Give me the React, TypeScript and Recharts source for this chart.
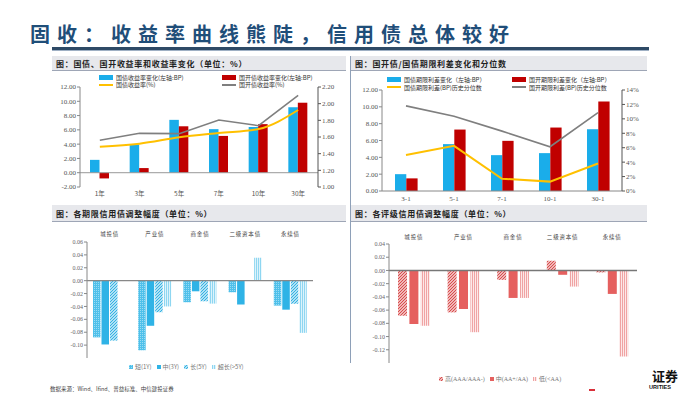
import React from "react";
import { ComposedChart, BarChart, Bar, Line, XAxis, YAxis, ReferenceLine } from "recharts";

// 国债/国开收益率
const tenors = ["1年", "3年", "5年", "7年", "10年", "30年"];
const govChange = [1.8, 3.95, 7.4, 6.1, 6.4, 9.15];
const cdbChange = [-0.8, 0.65, 6.5, 5.15, 6.8, 9.8];
const govYield = [1.484, 1.52, 1.596, 1.648, 1.696, 1.924];
const cdbYield = [1.56, 1.644, 1.64, 1.804, 1.736, 2.1];

// 期限利差
const spreads = ["3-1", "5-1", "7-1", "10-1", "30-1"];
const govSpreadChange = [2.0, 5.57, 4.26, 4.5, 7.34];
const cdbSpreadChange = [1.5, 7.3, 5.96, 7.54, 10.62];
const govSpreadPct = [5.0, 6.26, 1.7, 1.3, 3.82];
const cdbSpreadPct = [11.8, 10.36, 8.3, 6.13, 10.87];

// 信用债
const creditTypes = ["城投债", "产业债", "商金债", "二级资本债", "永续债"];
const short1Y = [-0.088, -0.108, -0.0335, -0.018, -0.0387];
const mid3Y = [-0.099, -0.07, -0.0165, -0.037, -0.045];
const long5Y = [-0.093, -0.049, -0.032, null, -0.036];
const ultraLong = [null, -0.04, -0.0356, 0.0356, -0.081];

const highGrade = [-0.0685, -0.0634, -0.0142, 0.0147, -0.003];
const midGrade = [-0.081, -0.0583, -0.0416, -0.0066, -0.0355];
const lowGrade = [-0.0837, -0.0934, -0.0416, -0.0244, -0.13];

const ticksA = [-2, 0, 2, 4, 6, 8, 10, 12];
const ticksAR = [1.0, 1.2, 1.4, 1.6, 1.8, 2.0, 2.2];
const ticksB = [0, 2, 4, 6, 8, 10, 12];
const ticksBR = [0, 2, 4, 6, 8, 10, 12, 14];
const ticksC = [-0.12, -0.1, -0.08, -0.06, -0.04, -0.02, 0, 0.02, 0.04, 0.06];
const ticksD = [-0.14, -0.12, -0.1, -0.08, -0.06, -0.04, -0.02, 0, 0.02, 0.04];

const yieldData = tenors.map((name, i) => ({
  name,
  gov: govChange[i],
  cdb: cdbChange[i],
  govY: govYield[i],
  cdbY: cdbYield[i],
}));
const spreadData = spreads.map((name, i) => ({
  name,
  gov: govSpreadChange[i],
  cdb: cdbSpreadChange[i],
  govP: govSpreadPct[i],
  cdbP: cdbSpreadPct[i],
}));
const tenorCredit = creditTypes.map((name, i) => ({
  name,
  s: short1Y[i],
  m: mid3Y[i],
  l: long5Y[i],
  u: ultraLong[i],
}));
const gradeCredit = creditTypes.map((name, i) => ({
  name,
  h: highGrade[i],
  m: midGrade[i],
  lo: lowGrade[i],
}));

const BLUE = "#1AADEA";
const RED = "#C00000";
const YELLOW = "#FFC000";
const GRAY = "#7F7F7F";
const CJK = '"Noto Sans CJK SC", sans-serif';
const SERIF = '"Liberation Serif", serif';

const numTick = { fontSize: 7, fill: "#555", fontFamily: SERIF };
const smallTick = { fontSize: 6, fill: "#666", fontFamily: SERIF };
const catTick = { fontSize: 6.5, fill: "#555", fontFamily: CJK };
const topCatTick = { fontSize: 5.5, fill: "#444", fontFamily: CJK, letterSpacing: 0.8 };
const axisStroke = { stroke: "#888" };

const Header = ({ x, y, w, h, text }: { x: number; y: number; w: number; h: number; text: string }) => (
  <div
    style={{
      position: "absolute",
      left: x,
      top: y,
      width: w,
      height: h,
      background: "#E7E8EC",
      borderBottom: "1px solid #9EA6B6",
      boxSizing: "border-box",
      fontFamily: CJK,
      fontWeight: 700,
      fontSize: 8,
      letterSpacing: 0.7,
      color: "#222",
      lineHeight: `${h}px`,
      paddingLeft: 4,
      whiteSpace: "nowrap",
    }}
  >
    {text}
  </div>
);

const LegendItem = ({
  x,
  y,
  kind,
  color,
  label,
}: {
  x: number;
  y: number;
  kind: "rect" | "line";
  color: string;
  label: string;
}) => (
  <div
    style={{
      position: "absolute",
      left: x,
      top: y - 5,
      height: 10,
      display: "flex",
      alignItems: "center",
      gap: 3,
      fontFamily: CJK,
      fontSize: 6,
      color: "#333",
      whiteSpace: "nowrap",
    }}
  >
    <span
      style={{
        display: "inline-block",
        width: 14,
        height: kind === "rect" ? 5 : 2,
        background: color,
      }}
    />
    <span>{label}</span>
  </div>
);

const Swatch = ({ fill }: { fill: string }) => (
  <svg width={4} height={4} style={{ display: "inline-block" }}>
    <rect width={4} height={4} fill={fill} />
  </svg>
);

export default function App() {
  return (
    <div
      style={{
        position: "absolute",
        left: 0,
        top: 0,
        width: 700,
        height: 394,
        background: "#fff",
        overflow: "hidden",
      }}
    >
      <svg width={0} height={0} style={{ position: "absolute" }}>
        <defs>
          <pattern id="blueDots" width={2} height={2} patternUnits="userSpaceOnUse">
            <rect width={2} height={2} fill="#4FC0EA" />
            <rect width={1} height={1} fill="#9ADCF4" />
          </pattern>
          <pattern id="blueDiag" width={3} height={3} patternUnits="userSpaceOnUse">
            <rect width={3} height={3} fill="#E6F6FC" />
            <path d="M0,3 L3,0 M-1,1 L1,-1 M2,4 L4,2" stroke="#2BAFE3" strokeWidth={1.1} />
          </pattern>
          <pattern id="blueVert" width={2} height={2} patternUnits="userSpaceOnUse">
            <rect width={2} height={2} fill="#DDF3FB" />
            <rect width={1} height={2} fill="#8ED6F1" />
          </pattern>
          <pattern id="redDiag" width={3} height={3} patternUnits="userSpaceOnUse">
            <rect width={3} height={3} fill="#FBE6E6" />
            <path d="M0,3 L3,0 M-1,1 L1,-1 M2,4 L4,2" stroke="#D64545" strokeWidth={1.1} />
          </pattern>
          <pattern id="redVert" width={2} height={2} patternUnits="userSpaceOnUse">
            <rect width={2} height={2} fill="#FCE8E8" />
            <rect width={1} height={2} fill="#F0A3A3" />
          </pattern>
        </defs>
      </svg>

      {/* Title */}
      <div
        style={{
          position: "absolute",
          left: 30,
          top: 22,
          fontFamily: CJK,
          fontWeight: 700,
          fontSize: 20,
          letterSpacing: 7,
          color: "#1F4E79",
          whiteSpace: "nowrap",
          lineHeight: "24px",
        }}
      >
        固收：收益率曲线熊陡，信用债总体较好
      </div>
      <div style={{ position: "absolute", left: 52, top: 47, width: 597, height: 3, background: "#2E4A66" }} />
      <div style={{ position: "absolute", left: 52, top: 50, width: 597, height: 1, background: "#9FB0C4" }} />

      {/* Panel headers */}
      <Header x={52} y={56} w={294} h={15} text="图：国债、国开收益率和收益率变化（单位：%）" />
      <Header x={351} y={56} w={296} h={15} text="图：国开债/国债期限利差变化和分位数" />
      <Header x={52} y={205} w={294} h={17} text="图：各期限信用债调整幅度（单位：%）" />
      <Header x={351} y={205} w={296} h={17} text="图：各评级信用债调整幅度（单位：%）" />
      <div style={{ position: "absolute", left: 350, top: 56, width: 1, height: 307, background: "#8EA0B8" }} />

      {/* Top-left legend */}
      <LegendItem x={99} y={77} kind="rect" color={BLUE} label="国债收益率变化(左轴:BP)" />
      <LegendItem x={222} y={77} kind="rect" color={RED} label="国开债收益率变化(左轴:BP)" />
      <LegendItem x={99} y={84.5} kind="line" color={YELLOW} label="国债收益率(%)" />
      <LegendItem x={222} y={84.5} kind="line" color={GRAY} label="国开债收益率(%)" />

      {/* Top-left chart */}
      <div style={{ position: "absolute", left: 40, top: 72 }}>
        <ComposedChart width={300} height={131} data={yieldData} margin={{ top: 15, right: 0, bottom: 0, left: 0 }} barGap={0}>
          <XAxis dataKey="name" axisLine={false} tickLine={false} tickSize={2} tickMargin={2} height={16} tick={catTick} interval={0} />
          <YAxis
            yAxisId="l"
            domain={[-2, 12]}
            ticks={ticksA}
            width={40}
            tickFormatter={(v) => Number(v).toFixed(2)}
            axisLine={axisStroke}
            tickLine={axisStroke}
            tickSize={3}
            tickMargin={1}
            tick={numTick}
          />
          <YAxis
            yAxisId="r"
            orientation="right"
            domain={[1, 2.2]}
            ticks={ticksAR}
            width={22}
            tickFormatter={(v) => Number(v).toFixed(2)}
            axisLine={{ stroke: "#555" }}
            tickLine={{ stroke: "#555" }}
            tickSize={3}
            tickMargin={1}
            tick={numTick}
          />
          <ReferenceLine yAxisId="l" y={0} stroke="#999" />
          <Bar yAxisId="l" dataKey="gov" fill={BLUE} barSize={9.5} isAnimationActive={false} />
          <Bar yAxisId="l" dataKey="cdb" fill={RED} barSize={9.5} isAnimationActive={false} />
          <Line yAxisId="r" dataKey="govY" type="monotone" stroke={YELLOW} strokeWidth={2} dot={false} isAnimationActive={false} />
          <Line yAxisId="r" dataKey="cdbY" type="linear" stroke={GRAY} strokeWidth={1.6} dot={false} isAnimationActive={false} />
        </ComposedChart>
      </div>

      {/* Top-right legend */}
      <LegendItem x={387} y={79} kind="rect" color={BLUE} label="国债期限利差变化（左轴:BP）" />
      <LegendItem x={512} y={79} kind="rect" color={RED} label="国开期限利差变化（左轴:BP）" />
      <LegendItem x={387} y={87.3} kind="line" color={YELLOW} label="国债期限利差(BP)历史分位数" />
      <LegendItem x={512} y={87.3} kind="line" color={GRAY} label="国开期限利差(BP)历史分位数" />

      {/* Top-right chart */}
      <div style={{ position: "absolute", left: 350, top: 72 }}>
        <ComposedChart width={294} height={133} data={spreadData} margin={{ top: 18, right: 0, bottom: 0, left: 0 }} barGap={0}>
          <XAxis dataKey="name" axisLine={axisStroke} tickLine={false} tickSize={2} tickMargin={3} height={14} tick={numTick} interval={0} />
          <YAxis
            yAxisId="l"
            domain={[0, 12]}
            ticks={ticksB}
            width={32}
            tickFormatter={(v) => Number(v).toFixed(2)}
            axisLine={axisStroke}
            tickLine={axisStroke}
            tickSize={3}
            tickMargin={1}
            tick={numTick}
          />
          <YAxis
            yAxisId="r"
            orientation="right"
            domain={[0, 14]}
            ticks={ticksBR}
            width={22}
            tickFormatter={(v) => `${v}%`}
            axisLine={{ stroke: "#555" }}
            tickLine={{ stroke: "#555" }}
            tickSize={3}
            tickMargin={1}
            tick={numTick}
          />
          <Bar yAxisId="l" dataKey="gov" fill={BLUE} barSize={11.3} isAnimationActive={false} />
          <Bar yAxisId="l" dataKey="cdb" fill={RED} barSize={11.3} isAnimationActive={false} />
          <Line yAxisId="r" dataKey="govP" type="linear" stroke={YELLOW} strokeWidth={2} dot={false} isAnimationActive={false} />
          <Line yAxisId="r" dataKey="cdbP" type="linear" stroke={GRAY} strokeWidth={1.6} dot={false} isAnimationActive={false} />
        </ComposedChart>
      </div>

      {/* Bottom-left chart */}
      <div style={{ position: "absolute", left: 40, top: 222 }}>
        <BarChart width={273} height={138} data={tenorCredit} margin={{ top: 0, right: 0, bottom: 2, left: 0 }} barGap={1}>
          <XAxis dataKey="name" orientation="top" axisLine={false} tickLine={false} tickSize={2} tickMargin={4} height={20} tick={topCatTick} interval={0} />
          <YAxis
            domain={[-0.12, 0.06]}
            ticks={ticksC}
            width={47}
            tickFormatter={(v) => Number(v).toFixed(2)}
            axisLine={axisStroke}
            tickLine={axisStroke}
            tickSize={3}
            tickMargin={1}
            tick={smallTick}
          />
          <ReferenceLine y={0} stroke="#888" strokeWidth={1.2} />
          <Bar dataKey="s" fill="url(#blueDots)" barSize={7.5} isAnimationActive={false} />
          <Bar dataKey="m" fill="#2FB3E6" barSize={7.5} isAnimationActive={false} />
          <Bar dataKey="l" fill="url(#blueDiag)" barSize={7.5} isAnimationActive={false} />
          <Bar dataKey="u" fill="url(#blueVert)" barSize={7.5} isAnimationActive={false} />
        </BarChart>
      </div>
      <div
        style={{
          position: "absolute",
          left: 129,
          top: 362,
          display: "flex",
          alignItems: "center",
          gap: 2,
          fontFamily: CJK,
          fontSize: 6,
          color: "#777",
          whiteSpace: "nowrap",
          height: 9,
        }}
      >
        <Swatch fill="url(#blueDots)" />
        <span style={{ marginRight: 3 }}>短(1Y)</span>
        <Swatch fill="#2FB3E6" />
        <span style={{ marginRight: 3 }}>中(3Y)</span>
        <Swatch fill="url(#blueDiag)" />
        <span style={{ marginRight: 3 }}>长(5Y)</span>
        <Swatch fill="url(#blueVert)" />
        <span>超长(&gt;5Y)</span>
      </div>

      {/* Bottom-right chart */}
      <div style={{ position: "absolute", left: 350, top: 222 }}>
        <BarChart width={287} height={142} data={gradeCredit} margin={{ top: 0, right: 0, bottom: 1, left: 0 }} barGap={2.4}>
          <XAxis dataKey="name" orientation="top" axisLine={false} tickLine={false} tickSize={2} tickMargin={3} height={22} tick={topCatTick} interval={0} />
          <YAxis
            domain={[-0.14, 0.04]}
            ticks={ticksD}
            width={39}
            tickFormatter={(v) => Number(v).toFixed(2)}
            axisLine={axisStroke}
            tickLine={axisStroke}
            tickSize={3}
            tickMargin={1}
            tick={smallTick}
          />
          <ReferenceLine y={0} stroke="#777" strokeWidth={1.6} />
          <Bar dataKey="h" fill="url(#redDiag)" barSize={9} isAnimationActive={false} />
          <Bar dataKey="m" fill="#E5605F" barSize={9} isAnimationActive={false} />
          <Bar dataKey="lo" fill="url(#redVert)" barSize={9} isAnimationActive={false} />
        </BarChart>
      </div>
      <div
        style={{
          position: "absolute",
          left: 439,
          top: 374,
          display: "flex",
          alignItems: "center",
          gap: 2,
          fontFamily: SERIF,
          fontSize: 6,
          color: "#777",
          whiteSpace: "nowrap",
          height: 9,
        }}
      >
        <Swatch fill="url(#redDiag)" />
        <span style={{ marginRight: 3 }}>
          <span style={{ fontFamily: CJK }}>高</span>(AAA/AAA-)
        </span>
        <Swatch fill="#E5605F" />
        <span style={{ marginRight: 3 }}>
          <span style={{ fontFamily: CJK }}>中</span>(AA+/AA)
        </span>
        <Swatch fill="url(#redVert)" />
        <span>
          <span style={{ fontFamily: CJK }}>低</span>(&lt;AA)
        </span>
      </div>

      {/* Source */}
      <div
        style={{
          position: "absolute",
          left: 50,
          top: 386,
          fontFamily: CJK,
          fontSize: 5.5,
          color: "#444",
          whiteSpace: "nowrap",
          lineHeight: "7px",
        }}
      >
        数据来源：Wind、Ifind、普益标准、中信建投证券
      </div>

      {/* Logo fragment */}
      <div
        style={{
          position: "absolute",
          left: 652,
          top: 369,
          fontFamily: CJK,
          fontWeight: 700,
          fontSize: 13,
          lineHeight: "13px",
          color: "#111",
          whiteSpace: "nowrap",
        }}
      >
        证券
      </div>
      <div
        style={{
          position: "absolute",
          left: 649,
          top: 384,
          fontFamily: '"Liberation Sans", sans-serif',
          fontWeight: 700,
          fontSize: 5.6,
          lineHeight: "7px",
          color: "#111",
          whiteSpace: "nowrap",
        }}
      >
        URITIES
      </div>
      <div style={{ position: "absolute", left: 589, top: 389, width: 6, height: 1.5, background: "#D9303A" }} />
    </div>
  );
}
